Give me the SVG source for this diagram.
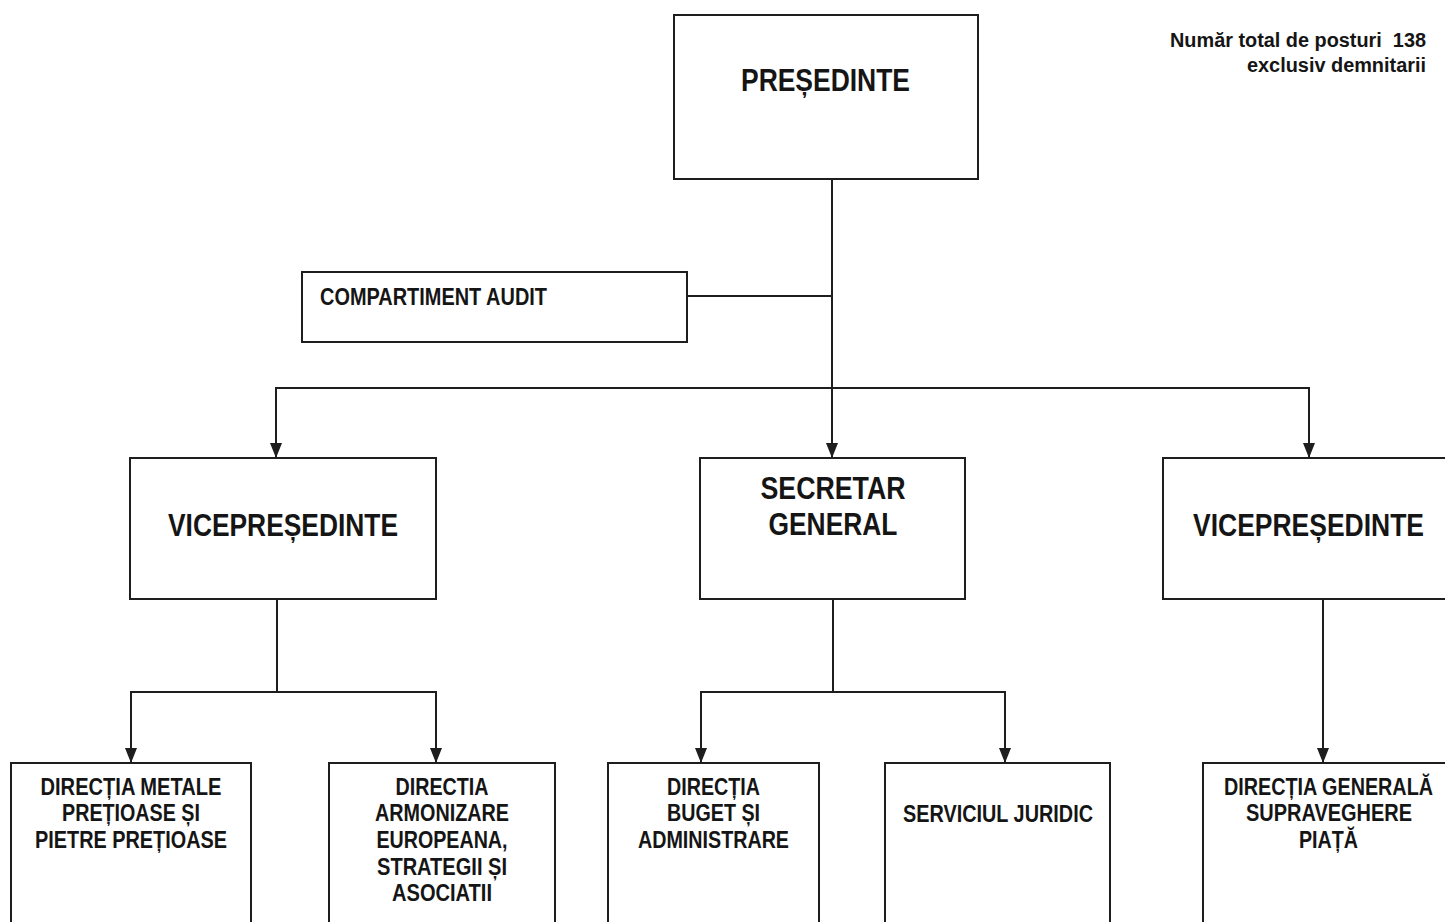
<svg xmlns="http://www.w3.org/2000/svg" width="1445" height="922" viewBox="0 0 1445 922">
<defs>
<style>
.box{fill:#fff;stroke:#1e1e1e;stroke-width:2}
.ln{fill:none;stroke:#1e1e1e;stroke-width:2}
.t{font-family:"Liberation Sans",Arial,sans-serif;font-weight:bold;fill:#151515;text-anchor:middle}
.big{font-size:31px}
.sm{font-size:23px}
</style>
<marker id="down" markerUnits="userSpaceOnUse" markerWidth="12" markerHeight="15" viewBox="0 0 12 15" refX="6" refY="15" orient="0">
<path d="M0,0 L12,0 L6,15 Z" fill="#1e1e1e"/>
</marker>
</defs>
<rect width="1445" height="922" fill="#fff"/>

<g id="connectors">
<path class="ln" d="M832,179 V458" marker-end="url(#down)"/>
<path class="ln" d="M687,296 H832"/>
<path class="ln" d="M276,458 V388 H1309 V458" marker-start="url(#down)" marker-end="url(#down)"/>
<path class="ln" d="M277,600 V692"/>
<path class="ln" d="M131,763 V692 H436 V763" marker-start="url(#down)" marker-end="url(#down)"/>
<path class="ln" d="M833,600 V692"/>
<path class="ln" d="M701,763 V692 H1005 V763" marker-start="url(#down)" marker-end="url(#down)"/>
<path class="ln" d="M1323,600 V763" marker-end="url(#down)"/>
</g>

<g id="note">
<text class="t" style="font-size:20px;text-anchor:end;white-space:pre" x="1426" y="47" textLength="256" lengthAdjust="spacingAndGlyphs">Număr total de posturi  138</text>
<text class="t" style="font-size:20px;text-anchor:end" x="1426" y="72" textLength="179" lengthAdjust="spacingAndGlyphs">exclusiv demnitarii</text>
</g>

<g id="presedinte">
<rect class="box" x="674" y="15" width="304" height="164"/>
<text class="t big" x="825.5" y="91" textLength="169" lengthAdjust="spacingAndGlyphs">PREȘEDINTE</text>
</g>

<g id="audit">
<rect class="box" x="302" y="272" width="385" height="70"/>
<text class="t" style="font-size:23px;text-anchor:start" x="320" y="305" textLength="227" lengthAdjust="spacingAndGlyphs">COMPARTIMENT AUDIT</text>
</g>

<g id="vp-left">
<rect class="box" x="130" y="458" width="306" height="141"/>
<text class="t big" x="283" y="536" textLength="230" lengthAdjust="spacingAndGlyphs">VICEPREȘEDINTE</text>
</g>

<g id="secretar">
<rect class="box" x="700" y="458" width="265" height="141"/>
<text class="t big" x="833" y="499" textLength="145" lengthAdjust="spacingAndGlyphs">SECRETAR</text>
<text class="t big" x="833" y="535" textLength="129" lengthAdjust="spacingAndGlyphs">GENERAL</text>
</g>

<g id="vp-right">
<rect class="box" x="1163" y="458" width="300" height="141"/>
<text class="t big" x="1308.5" y="536" textLength="231" lengthAdjust="spacingAndGlyphs">VICEPREȘEDINTE</text>
</g>

<g id="dir-metale">
<rect class="box" x="11" y="763" width="240" height="170"/>
<text class="t sm" x="131" y="795" textLength="181" lengthAdjust="spacingAndGlyphs">DIRECȚIA METALE</text>
<text class="t sm" x="131" y="821" textLength="138" lengthAdjust="spacingAndGlyphs">PREȚIOASE ȘI</text>
<text class="t sm" x="131" y="848" textLength="192" lengthAdjust="spacingAndGlyphs">PIETRE PREȚIOASE</text>
</g>

<g id="dir-armonizare">
<rect class="box" x="329" y="763" width="226" height="170"/>
<text class="t sm" x="442" y="795" textLength="93" lengthAdjust="spacingAndGlyphs">DIRECTIA</text>
<text class="t sm" x="442" y="821" textLength="134" lengthAdjust="spacingAndGlyphs">ARMONIZARE</text>
<text class="t sm" x="442" y="848" textLength="131" lengthAdjust="spacingAndGlyphs">EUROPEANA,</text>
<text class="t sm" x="442" y="875" textLength="130" lengthAdjust="spacingAndGlyphs">STRATEGII ȘI</text>
<text class="t sm" x="442" y="901" textLength="100" lengthAdjust="spacingAndGlyphs">ASOCIATII</text>
</g>

<g id="dir-buget">
<rect class="box" x="608" y="763" width="211" height="170"/>
<text class="t sm" x="713.5" y="795" textLength="93" lengthAdjust="spacingAndGlyphs">DIRECȚIA</text>
<text class="t sm" x="713.5" y="821" textLength="93" lengthAdjust="spacingAndGlyphs">BUGET ȘI</text>
<text class="t sm" x="713.5" y="848" textLength="151" lengthAdjust="spacingAndGlyphs">ADMINISTRARE</text>
</g>

<g id="serviciul-juridic">
<rect class="box" x="885" y="763" width="225" height="170"/>
<text class="t sm" x="998" y="822" textLength="190" lengthAdjust="spacingAndGlyphs">SERVICIUL JURIDIC</text>
</g>

<g id="dir-supraveghere">
<rect class="box" x="1203" y="763" width="260" height="170"/>
<text class="t sm" x="1328.5" y="795" textLength="209" lengthAdjust="spacingAndGlyphs">DIRECȚIA GENERALĂ</text>
<text class="t sm" x="1329" y="821" textLength="166" lengthAdjust="spacingAndGlyphs">SUPRAVEGHERE</text>
<text class="t sm" x="1328.5" y="848" textLength="59" lengthAdjust="spacingAndGlyphs">PIAȚĂ</text>
</g>
</svg>
